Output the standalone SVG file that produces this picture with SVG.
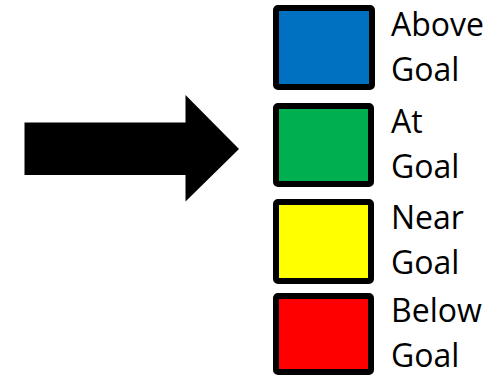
<svg xmlns="http://www.w3.org/2000/svg" width="500" height="380" viewBox="0 0 500 380">
<style>
.box{stroke:#000;stroke-width:6;}
.lbl{font-family:"Open Sans","Noto Sans",sans-serif;font-size:32px;fill:#000;}
</style>
<rect width="500" height="380" fill="#fff"/>
<g id="connectors">
<polygon id="arrow" points="24.5,122.5 185.5,122.5 185.5,95 239,149 185.5,201.5 185.5,175 24.5,175" fill="#000"/>
</g>
<g id="above">
<rect class="box" x="276" y="8" width="96" height="79" rx="2" fill="#0070C0"/>
<text class="lbl" x="391" y="36">Above</text>
<text class="lbl" x="391" y="81">Goal</text>
</g>
<g id="at">
<rect class="box" x="276" y="106" width="95" height="78" rx="2" fill="#00B050"/>
<text class="lbl" x="391" y="133">At</text>
<text class="lbl" x="391" y="178">Goal</text>
</g>
<g id="near">
<rect class="box" x="276" y="202" width="95" height="79" rx="2" fill="#FFFF00"/>
<text class="lbl" x="391" y="229">Near</text>
<text class="lbl" x="391" y="274">Goal</text>
</g>
<g id="below">
<rect class="box" x="276" y="296" width="95" height="76" rx="2" fill="#FF0000"/>
<text class="lbl" x="391" y="321.5">Below</text>
<text class="lbl" x="391" y="366.5">Goal</text>
</g>
</svg>
